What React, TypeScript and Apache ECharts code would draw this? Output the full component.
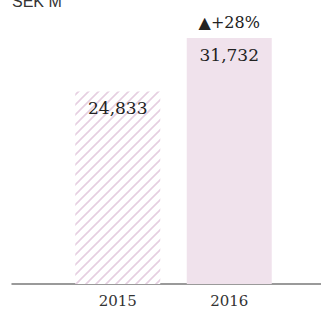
import React, { useEffect, useRef } from "react";
import * as echarts from "echarts";

const categories = ["2015", "2016"];
const values = [24833, 31732];
const changeLabels = ["", "▲+28%"];
const unitLabel = "SEK M";

function makeHatch(): string {
  const size = 10;
  const c = document.createElement("canvas");
  c.width = size;
  c.height = size;
  const ctx = c.getContext("2d");
  if (ctx) {
    ctx.fillStyle = "#ffffff";
    ctx.fillRect(0, 0, size, size);
    ctx.strokeStyle = "#e6cfe1";
    ctx.lineWidth = 1.6;
    ctx.beginPath();
    ctx.moveTo(-2, size + 2);
    ctx.lineTo(size + 2, -2);
    ctx.moveTo(-2, 2);
    ctx.lineTo(2, -2);
    ctx.moveTo(size - 2, size + 2);
    ctx.lineTo(size + 2, size - 2);
    ctx.stroke();
  }
  return c.toDataURL();
}

export default function App() {
  const ref = useRef<HTMLDivElement>(null);
  useEffect(() => {
    if (!ref.current) return;
    const chart = echarts.init(ref.current, undefined, { renderer: "svg" });
    const hatch = makeHatch();
    const serif = "DejaVu Serif";
    chart.setOption({
      animation: false,
      grid: [
        { left: 62, right: 36, top: 38, bottom: 25 },
        { left: 12, right: 0, top: 38, bottom: 25 },
      ],
      graphic: [
        {
          type: "text",
          left: 12,
          top: -7,
          style: {
            text: unitLabel,
            fontFamily: "Liberation Sans",
            fontSize: 16,
            fill: "#333",
          },
        },
      ],
      xAxis: [
        {
          type: "category",
          gridIndex: 0,
          data: categories,
          axisLine: { show: false },
          axisTick: { show: false },
          axisLabel: {
            fontFamily: serif,
            fontSize: 15,
            color: "#333",
            margin: 9,
          },
        },
        {
          type: "value",
          gridIndex: 1,
          min: 0,
          max: 1,
          axisLine: { show: true, lineStyle: { color: "#7a7a7a", width: 1.5 } },
          axisTick: { show: false },
          axisLabel: { show: false },
          splitLine: { show: false },
        },
      ],
      yAxis: [
        { type: "value", gridIndex: 0, min: 0, max: 31732, show: false },
        { type: "value", gridIndex: 1, min: 0, max: 1, show: false },
      ],
      series: [
        {
          type: "bar",
          xAxisIndex: 0,
          yAxisIndex: 0,
          barWidth: 85,
          data: values.map((v, i) => ({
            value: v,
            itemStyle: {
              color:
                i === 0
                  ? { image: hatch, repeat: "repeat" }
                  : "#f0e2ec",
            },
          })),
          label: {
            show: true,
            position: "insideTop",
            distance: 8,
            fontFamily: serif,
            fontSize: 17,
            color: "#222",
            formatter: (p: any) => Number(p.value).toLocaleString("en-US"),
          },
        },
        {
          type: "bar",
          xAxisIndex: 0,
          yAxisIndex: 0,
          barWidth: 85,
          barGap: "-100%",
          data: values,
          itemStyle: { color: "rgba(0,0,0,0)" },
          label: {
            show: true,
            position: "top",
            distance: 8,
            fontFamily: serif,
            fontSize: 16,
            color: "#222",
            formatter: (p: any) => changeLabels[p.dataIndex],
          },
          silent: true,
        },
      ],
    });
    return () => chart.dispose();
  }, []);
  return (
    <div
      ref={ref}
      style={{ position: "absolute", left: 0, top: 0, width: 321, height: 309 }}
    />
  );
}
